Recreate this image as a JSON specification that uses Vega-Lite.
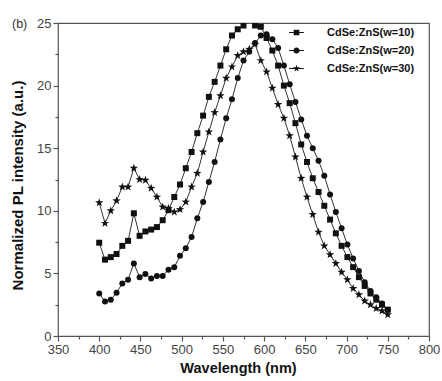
{
  "$schema": "https://vega.github.io/schema/vega-lite/v6.json",
  "autosize": {"type": "none"},
  "width": 371,
  "height": 313,
  "padding": {"left": 58, "top": 23, "right": 13, "bottom": 45},
  "background": "white",
  "title": {"text": "(b)", "anchor": "start", "frame": "group", "orient": "top", "offset": 0, "dx": -46, "dy": 19, "baseline": "middle", "fontSize": 12.5, "fontWeight": "normal", "font": "Liberation Sans", "color": "#333"},
  "config": {
    "view": {"stroke": "#555", "strokeWidth": 1.2},
    "font": "Liberation Sans"
  },
  "datasets": {
    "pl": [
      {"wl":400,"v":7.45,"s":"CdSe:ZnS(w=10)"},{"wl":407,"v":6.1,"s":"CdSe:ZnS(w=10)"},{"wl":414,"v":6.3,"s":"CdSe:ZnS(w=10)"},{"wl":421,"v":6.55,"s":"CdSe:ZnS(w=10)"},{"wl":428,"v":7.2,"s":"CdSe:ZnS(w=10)"},{"wl":435,"v":7.6,"s":"CdSe:ZnS(w=10)"},{"wl":442,"v":9.8,"s":"CdSe:ZnS(w=10)"},{"wl":449,"v":8.0,"s":"CdSe:ZnS(w=10)"},{"wl":456,"v":8.35,"s":"CdSe:ZnS(w=10)"},{"wl":463,"v":8.5,"s":"CdSe:ZnS(w=10)"},{"wl":470,"v":8.7,"s":"CdSe:ZnS(w=10)"},{"wl":477,"v":9.25,"s":"CdSe:ZnS(w=10)"},{"wl":484,"v":10.05,"s":"CdSe:ZnS(w=10)"},{"wl":491,"v":11.1,"s":"CdSe:ZnS(w=10)"},{"wl":498,"v":12.1,"s":"CdSe:ZnS(w=10)"},{"wl":505,"v":13.4,"s":"CdSe:ZnS(w=10)"},{"wl":512,"v":14.7,"s":"CdSe:ZnS(w=10)"},{"wl":519,"v":16.2,"s":"CdSe:ZnS(w=10)"},{"wl":526,"v":17.6,"s":"CdSe:ZnS(w=10)"},{"wl":533,"v":19.1,"s":"CdSe:ZnS(w=10)"},{"wl":540,"v":20.3,"s":"CdSe:ZnS(w=10)"},{"wl":547,"v":21.6,"s":"CdSe:ZnS(w=10)"},{"wl":554,"v":22.9,"s":"CdSe:ZnS(w=10)"},{"wl":561,"v":24.0,"s":"CdSe:ZnS(w=10)"},{"wl":568,"v":24.5,"s":"CdSe:ZnS(w=10)"},{"wl":575,"v":24.8,"s":"CdSe:ZnS(w=10)"},{"wl":582,"v":25.4,"s":"CdSe:ZnS(w=10)"},{"wl":589,"v":24.8,"s":"CdSe:ZnS(w=10)"},{"wl":596,"v":24.7,"s":"CdSe:ZnS(w=10)"},{"wl":603,"v":23.8,"s":"CdSe:ZnS(w=10)"},{"wl":610,"v":22.8,"s":"CdSe:ZnS(w=10)"},{"wl":617,"v":21.6,"s":"CdSe:ZnS(w=10)"},{"wl":624,"v":20.0,"s":"CdSe:ZnS(w=10)"},{"wl":631,"v":18.6,"s":"CdSe:ZnS(w=10)"},{"wl":638,"v":17.0,"s":"CdSe:ZnS(w=10)"},{"wl":645,"v":15.3,"s":"CdSe:ZnS(w=10)"},{"wl":652,"v":13.9,"s":"CdSe:ZnS(w=10)"},{"wl":659,"v":12.6,"s":"CdSe:ZnS(w=10)"},{"wl":666,"v":11.5,"s":"CdSe:ZnS(w=10)"},{"wl":673,"v":10.4,"s":"CdSe:ZnS(w=10)"},{"wl":680,"v":9.3,"s":"CdSe:ZnS(w=10)"},{"wl":687,"v":8.2,"s":"CdSe:ZnS(w=10)"},{"wl":694,"v":7.2,"s":"CdSe:ZnS(w=10)"},{"wl":701,"v":6.3,"s":"CdSe:ZnS(w=10)"},{"wl":708,"v":5.5,"s":"CdSe:ZnS(w=10)"},{"wl":715,"v":4.7,"s":"CdSe:ZnS(w=10)"},{"wl":722,"v":4.0,"s":"CdSe:ZnS(w=10)"},{"wl":729,"v":3.4,"s":"CdSe:ZnS(w=10)"},{"wl":736,"v":2.9,"s":"CdSe:ZnS(w=10)"},{"wl":743,"v":2.5,"s":"CdSe:ZnS(w=10)"},{"wl":750,"v":2.1,"s":"CdSe:ZnS(w=10)"},
      {"wl":400,"v":3.4,"s":"CdSe:ZnS(w=20)"},{"wl":407,"v":2.75,"s":"CdSe:ZnS(w=20)"},{"wl":414,"v":2.9,"s":"CdSe:ZnS(w=20)"},{"wl":421,"v":3.45,"s":"CdSe:ZnS(w=20)"},{"wl":428,"v":4.2,"s":"CdSe:ZnS(w=20)"},{"wl":435,"v":4.5,"s":"CdSe:ZnS(w=20)"},{"wl":442,"v":5.8,"s":"CdSe:ZnS(w=20)"},{"wl":449,"v":4.7,"s":"CdSe:ZnS(w=20)"},{"wl":456,"v":4.95,"s":"CdSe:ZnS(w=20)"},{"wl":463,"v":4.6,"s":"CdSe:ZnS(w=20)"},{"wl":470,"v":4.8,"s":"CdSe:ZnS(w=20)"},{"wl":477,"v":4.8,"s":"CdSe:ZnS(w=20)"},{"wl":484,"v":5.3,"s":"CdSe:ZnS(w=20)"},{"wl":491,"v":5.5,"s":"CdSe:ZnS(w=20)"},{"wl":498,"v":6.4,"s":"CdSe:ZnS(w=20)"},{"wl":505,"v":7.0,"s":"CdSe:ZnS(w=20)"},{"wl":512,"v":7.9,"s":"CdSe:ZnS(w=20)"},{"wl":519,"v":9.4,"s":"CdSe:ZnS(w=20)"},{"wl":526,"v":10.7,"s":"CdSe:ZnS(w=20)"},{"wl":533,"v":12.3,"s":"CdSe:ZnS(w=20)"},{"wl":540,"v":13.9,"s":"CdSe:ZnS(w=20)"},{"wl":547,"v":15.7,"s":"CdSe:ZnS(w=20)"},{"wl":554,"v":17.4,"s":"CdSe:ZnS(w=20)"},{"wl":561,"v":18.9,"s":"CdSe:ZnS(w=20)"},{"wl":568,"v":20.6,"s":"CdSe:ZnS(w=20)"},{"wl":575,"v":22.0,"s":"CdSe:ZnS(w=20)"},{"wl":582,"v":22.7,"s":"CdSe:ZnS(w=20)"},{"wl":589,"v":23.4,"s":"CdSe:ZnS(w=20)"},{"wl":596,"v":24.0,"s":"CdSe:ZnS(w=20)"},{"wl":603,"v":24.1,"s":"CdSe:ZnS(w=20)"},{"wl":610,"v":23.7,"s":"CdSe:ZnS(w=20)"},{"wl":617,"v":23.0,"s":"CdSe:ZnS(w=20)"},{"wl":624,"v":21.6,"s":"CdSe:ZnS(w=20)"},{"wl":631,"v":20.1,"s":"CdSe:ZnS(w=20)"},{"wl":638,"v":18.7,"s":"CdSe:ZnS(w=20)"},{"wl":645,"v":17.3,"s":"CdSe:ZnS(w=20)"},{"wl":652,"v":16.0,"s":"CdSe:ZnS(w=20)"},{"wl":659,"v":15.0,"s":"CdSe:ZnS(w=20)"},{"wl":666,"v":14.0,"s":"CdSe:ZnS(w=20)"},{"wl":673,"v":12.8,"s":"CdSe:ZnS(w=20)"},{"wl":680,"v":11.3,"s":"CdSe:ZnS(w=20)"},{"wl":687,"v":9.9,"s":"CdSe:ZnS(w=20)"},{"wl":694,"v":8.6,"s":"CdSe:ZnS(w=20)"},{"wl":701,"v":7.3,"s":"CdSe:ZnS(w=20)"},{"wl":708,"v":6.2,"s":"CdSe:ZnS(w=20)"},{"wl":715,"v":5.2,"s":"CdSe:ZnS(w=20)"},{"wl":722,"v":4.3,"s":"CdSe:ZnS(w=20)"},{"wl":729,"v":3.6,"s":"CdSe:ZnS(w=20)"},{"wl":736,"v":3.1,"s":"CdSe:ZnS(w=20)"},{"wl":743,"v":2.6,"s":"CdSe:ZnS(w=20)"},{"wl":750,"v":2.1,"s":"CdSe:ZnS(w=20)"},
      {"wl":400,"v":10.65,"s":"CdSe:ZnS(w=30)"},{"wl":407,"v":9.0,"s":"CdSe:ZnS(w=30)"},{"wl":414,"v":10.0,"s":"CdSe:ZnS(w=30)"},{"wl":421,"v":10.8,"s":"CdSe:ZnS(w=30)"},{"wl":428,"v":11.9,"s":"CdSe:ZnS(w=30)"},{"wl":435,"v":11.9,"s":"CdSe:ZnS(w=30)"},{"wl":442,"v":13.4,"s":"CdSe:ZnS(w=30)"},{"wl":449,"v":12.5,"s":"CdSe:ZnS(w=30)"},{"wl":456,"v":12.45,"s":"CdSe:ZnS(w=30)"},{"wl":463,"v":11.8,"s":"CdSe:ZnS(w=30)"},{"wl":470,"v":11.1,"s":"CdSe:ZnS(w=30)"},{"wl":477,"v":10.3,"s":"CdSe:ZnS(w=30)"},{"wl":484,"v":10.2,"s":"CdSe:ZnS(w=30)"},{"wl":491,"v":9.9,"s":"CdSe:ZnS(w=30)"},{"wl":498,"v":10.1,"s":"CdSe:ZnS(w=30)"},{"wl":505,"v":10.7,"s":"CdSe:ZnS(w=30)"},{"wl":512,"v":11.9,"s":"CdSe:ZnS(w=30)"},{"wl":519,"v":13.0,"s":"CdSe:ZnS(w=30)"},{"wl":526,"v":14.7,"s":"CdSe:ZnS(w=30)"},{"wl":533,"v":16.3,"s":"CdSe:ZnS(w=30)"},{"wl":540,"v":17.85,"s":"CdSe:ZnS(w=30)"},{"wl":547,"v":19.2,"s":"CdSe:ZnS(w=30)"},{"wl":554,"v":20.6,"s":"CdSe:ZnS(w=30)"},{"wl":561,"v":21.5,"s":"CdSe:ZnS(w=30)"},{"wl":568,"v":22.4,"s":"CdSe:ZnS(w=30)"},{"wl":575,"v":22.7,"s":"CdSe:ZnS(w=30)"},{"wl":582,"v":22.9,"s":"CdSe:ZnS(w=30)"},{"wl":589,"v":23.3,"s":"CdSe:ZnS(w=30)"},{"wl":596,"v":22.0,"s":"CdSe:ZnS(w=30)"},{"wl":603,"v":21.1,"s":"CdSe:ZnS(w=30)"},{"wl":610,"v":19.8,"s":"CdSe:ZnS(w=30)"},{"wl":617,"v":18.5,"s":"CdSe:ZnS(w=30)"},{"wl":624,"v":17.4,"s":"CdSe:ZnS(w=30)"},{"wl":631,"v":16.0,"s":"CdSe:ZnS(w=30)"},{"wl":638,"v":14.3,"s":"CdSe:ZnS(w=30)"},{"wl":645,"v":12.6,"s":"CdSe:ZnS(w=30)"},{"wl":652,"v":11.1,"s":"CdSe:ZnS(w=30)"},{"wl":659,"v":9.7,"s":"CdSe:ZnS(w=30)"},{"wl":666,"v":8.3,"s":"CdSe:ZnS(w=30)"},{"wl":673,"v":7.2,"s":"CdSe:ZnS(w=30)"},{"wl":680,"v":6.5,"s":"CdSe:ZnS(w=30)"},{"wl":687,"v":5.8,"s":"CdSe:ZnS(w=30)"},{"wl":694,"v":5.1,"s":"CdSe:ZnS(w=30)"},{"wl":701,"v":4.5,"s":"CdSe:ZnS(w=30)"},{"wl":708,"v":3.8,"s":"CdSe:ZnS(w=30)"},{"wl":715,"v":3.3,"s":"CdSe:ZnS(w=30)"},{"wl":722,"v":2.8,"s":"CdSe:ZnS(w=30)"},{"wl":729,"v":2.5,"s":"CdSe:ZnS(w=30)"},{"wl":736,"v":2.2,"s":"CdSe:ZnS(w=30)"},{"wl":743,"v":2.0,"s":"CdSe:ZnS(w=30)"},{"wl":750,"v":1.7,"s":"CdSe:ZnS(w=30)"}
    ]
  },
  "data": {"name": "pl"},
  "encoding": {
    "x": {
      "field": "wl", "type": "quantitative",
      "scale": {"domain": [350, 800], "nice": false, "zero": false},
      "axis": {
        "title": "Wavelength (nm)",
        "values": [350,375,400,425,450,475,500,525,550,575,600,625,650,675,700,725,750,775,800],
        "labelExpr": "datum.value % 50 === 0 ? datum.label : ''",
        "tickSize": {"condition": {"test": "datum.value % 50 === 0", "value": 5}, "value": 3},
        "grid": false, "domain": false,
        "tickColor": "#555", "tickWidth": 1.2,
        "labelFontSize": 13, "labelColor": "#444", "labelPadding": 2, "labelFlush": false,
        "titleFontSize": 14.5, "titleFontWeight": "bold", "titleColor": "#111", "titlePadding": 5,
        "titleX": 180, "titleAnchor": null, "titleAlign": "center"
      }
    },
    "y": {
      "field": "v", "type": "quantitative",
      "scale": {"domain": [0, 25], "nice": false},
      "axis": {
        "title": "Normalized PL intensity (a.u.)",
        "values": [0,2.5,5,7.5,10,12.5,15,17.5,20,22.5,25],
        "labelExpr": "datum.value % 5 === 0 ? datum.label : ''",
        "tickSize": {"condition": {"test": "datum.value % 5 === 0", "value": 5}, "value": 3},
        "grid": false, "domain": false,
        "tickColor": "#555", "tickWidth": 1.2,
        "labelFontSize": 13, "labelColor": "#444", "labelPadding": 2,
        "titleFontSize": 15, "titleFontWeight": "bold", "titleColor": "#111", "titlePadding": 11,
        "titleY": 162, "titleAnchor": null, "titleAlign": "center", "titleBaseline": "bottom"
      }
    }
  },
  "layer": [
    {
      "mark": {"type": "line", "color": "#333", "strokeWidth": 1, "clip": true},
      "encoding": {"detail": {"field": "s"}}
    },
    {
      "mark": {"type": "point", "filled": true, "color": "#111", "opacity": 1, "size": 36, "clip": true},
      "encoding": {
        "shape": {
          "field": "s", "type": "nominal",
          "scale": {"domain": ["CdSe:ZnS(w=10)", "CdSe:ZnS(w=20)", "CdSe:ZnS(w=30)"], "range": ["square", "circle", "M0,-1.25L0.294,-0.405L1.189,-0.386L0.476,0.155L0.735,1.011L0,0.5L-0.735,1.011L-0.476,0.155L-1.189,-0.386L-0.294,-0.405Z"]},
          "legend": null
        },
        "size": {"condition": {"test": "datum.s === 'CdSe:ZnS(w=30)'", "value": 50}, "value": 36}
      }
    },
    {
      "transform": [{"filter": "false"}],
      "mark": {"type": "point", "filled": true, "color": "#111", "opacity": 1},
      "encoding": {
        "shape": {
          "field": "s", "type": "nominal",
          "scale": {"domain": ["CdSe:ZnS(w=10)", "CdSe:ZnS(w=20)", "CdSe:ZnS(w=30)"], "range": [
            "M-2.6,-0.17H2.6V0.17H-2.6ZM-1,-1H1V1H-1Z",
            "M-2.6,-0.17H2.6V0.17H-2.6ZM1.1,0A1.1,1.1,0,1,1,-1.1,0A1.1,1.1,0,1,1,1.1,0Z",
            "M-2.6,-0.17H2.6V0.17H-2.6ZM0,-1.3L0.306,-0.421L1.236,-0.402L0.495,0.161L0.764,1.052L0,0.52L-0.764,1.052L-0.495,0.161L-1.236,-0.402L-0.306,-0.421Z"
          ]},
          "legend": {
            "title": null, "orient": "none", "legendX": 233, "legendY": 4,
            "symbolSize": 32, "labelOffset": 25, "labelFontSize": 11, "labelFontWeight": "bold", "labelColor": "#111",
            "rowPadding": 6, "padding": 0, "labelLimit": 200,
            "symbolFillColor": "#111", "symbolStrokeColor": "#111", "symbolStrokeWidth": 0
          }
        }
      }
    }
  ],
  "resolve": {"scale": {"shape": "independent"}, "legend": {"shape": "independent"}}
}
